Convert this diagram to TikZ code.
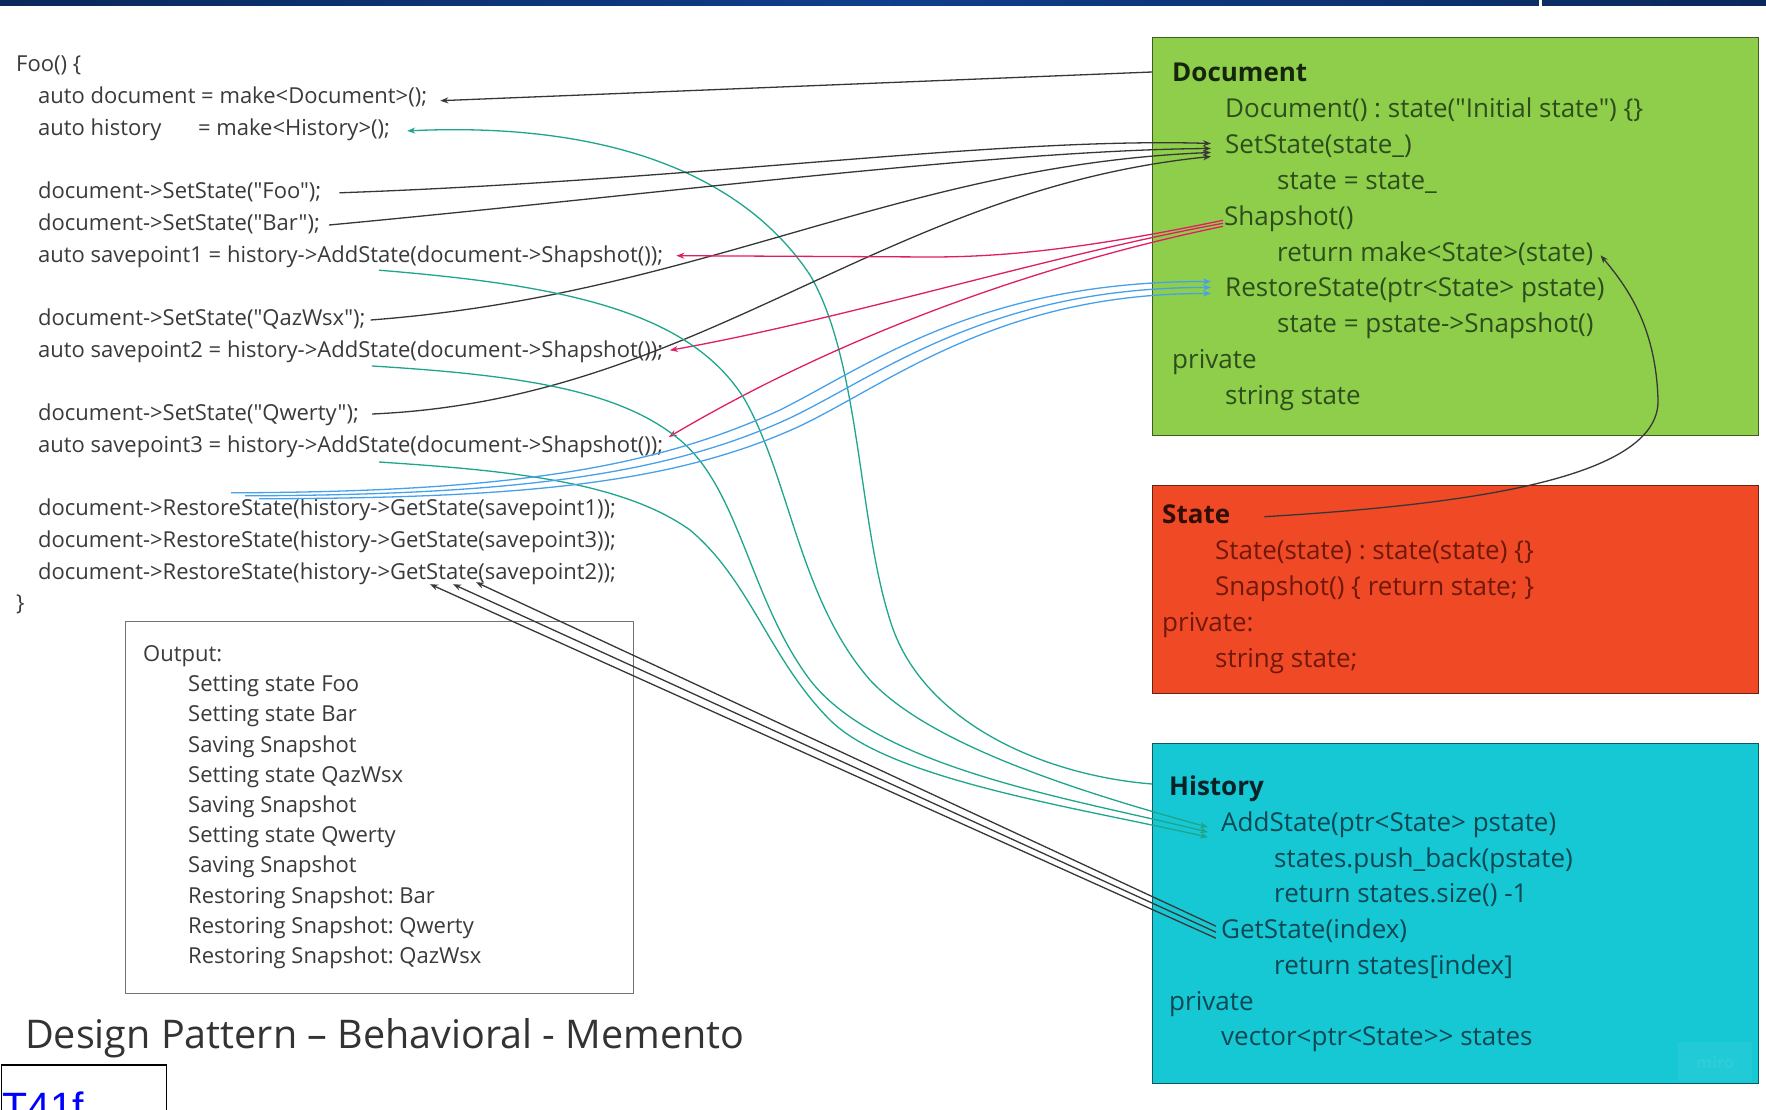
\documentclass[tikz,border=0pt]{standalone}
\usepackage{fontspec}
\setmainfont{Open Sans}[Ligatures=TeXOff]
\newfontfamily\tagfont{Liberation Sans}
\usetikzlibrary{arrows.meta}
\frenchspacing

\definecolor{barDark}{RGB}{10,40,90}
\definecolor{barLight}{RGB}{14,62,140}
\definecolor{docgreen}{RGB}{143,206,74}
\definecolor{statered}{RGB}{240,73,38}
\definecolor{histcyan}{RGB}{22,200,212}
\definecolor{doctext}{RGB}{45,78,28}
\definecolor{dochead}{RGB}{22,38,12}
\definecolor{statetext}{RGB}{112,24,10}
\definecolor{statehead}{RGB}{48,14,6}
\definecolor{histtext}{RGB}{12,72,84}
\definecolor{histhead}{RGB}{8,34,40}
\definecolor{codegray}{RGB}{58,58,58}
\definecolor{lnblack}{RGB}{55,55,55}
\definecolor{lnteal}{RGB}{30,165,140}
\definecolor{lnpink}{RGB}{225,30,100}
\definecolor{lnblue}{RGB}{70,160,235}

\begin{document}
\begin{tikzpicture}[x=1pt,y=-1pt,
  code/.style={anchor=base west, inner sep=0pt, text=codegray, font=\fontsize{22}{26}\selectfont},
  outtxt/.style={anchor=base west, inner sep=0pt, text=codegray, font=\fontsize{22}{26}\selectfont},
  btxt/.style={anchor=base west, inner sep=0pt, font=\fontsize{26}{30}\selectfont},
  bhead/.style={btxt, font=\fontsize{26}{30}\selectfont\bfseries},
  classbox/.style={anchor=north west, inner sep=0pt, line width=1.4pt},
  conn/.style={line width=1.3pt, -{Stealth[length=8pt,width=6pt]}},
  conblack/.style={conn, draw=lnblack},
  conteal/.style={conn, draw=lnteal},
  conpink/.style={conn, draw=lnpink},
  conblue/.style={conn, draw=lnblue}
]
\clip (0,0) rectangle (1766,1110);
\fill[white] (0,0) rectangle (1766,1110);

% header strip
\shade[left color=barDark, right color=barDark, middle color=barLight] (0,0) rectangle (1766,6);
\fill[white] (1539,0) rectangle (1542,6);

% class boxes
\node[classbox, fill=docgreen, draw=docgreen!45!black, minimum width=606pt, minimum height=398pt] (docbox) at (1152,37) {};
\node[classbox, fill=statered, draw=statered!45!black, minimum width=606pt, minimum height=208pt] (statebox) at (1152,485) {};
\node[classbox, fill=histcyan, draw=histcyan!45!black, minimum width=606pt, minimum height=340pt] (histbox) at (1152,743) {};
\node[classbox, draw=black!55, minimum width=508pt, minimum height=372pt] (outbox) at (125,621) {};

% faint badge in the history box corner
\fill[white, opacity=0.05] (1678,1042) rectangle (1752,1081);
\node[text=white, opacity=0.06, font=\fontsize{16}{18}\selectfont\bfseries] (badge) at (1715,1062) {miro};

% Document class
\node[bhead, text=dochead] (docHead) at (1172,82) {Document};
\node[btxt, text=doctext] (docCtor) at (1225,118) {Document() : state("Initial state") \{\}};
\node[btxt, text=doctext] (docSet) at (1225,153.5) {SetState(state\_)};
\node[btxt, text=doctext] (docSetBody) at (1277,189.5) {state = state\_};
\node[btxt, text=doctext] (docShap) at (1224,225.3) {Shapshot()};
\node[btxt, text=doctext] (docRet) at (1277,261.3) {return make<State>(state)};
\node[btxt, text=doctext] (docRest) at (1225,296.5) {RestoreState(ptr<State> pstate)};
\node[btxt, text=doctext] (docRestBody) at (1277,332.3) {state = pstate->Snapshot()};
\node[btxt, text=doctext] (docPriv) at (1172,368.3) {private};
\node[btxt, text=doctext] (docField) at (1225,404.3) {string state};

% State class
\node[bhead, text=statehead] (stateHead) at (1162,523.7) {State};
\node[btxt, text=statetext] (stateCtor) at (1215,559.8) {State(state) : state(state) \{\}};
\node[btxt, text=statetext] (stateSnap) at (1215,595.8) {Snapshot() \{ return state; \}};
\node[btxt, text=statetext] (statePriv) at (1162,631.8) {private:};
\node[btxt, text=statetext] (stateField) at (1215,667.9) {string state;};

% History class
\node[bhead, text=histhead] (histHead) at (1169,795.2) {History};
\node[btxt, text=histtext] (histAdd) at (1221,831.2) {AddState(ptr<State> pstate)};
\node[btxt, text=histtext] (histPush) at (1274,867.2) {states.push\_back(pstate)};
\node[btxt, text=histtext] (histSize) at (1274,902.5) {return states.size() -1};
\node[btxt, text=histtext] (histGet) at (1221,938.2) {GetState(index)};
\node[btxt, text=histtext] (histIdx) at (1274,974.2) {return states[index]};
\node[btxt, text=histtext] (histPriv) at (1169,1010) {private};
\node[btxt, text=histtext] (histField) at (1221,1045.2) {vector<ptr<State>> states};

% client code
\node[code] (fooopen) at (16,72) {Foo() \{};
\node[code] (mkdoc) at (38,103.7) {auto document = make<Document>();};
\node[code] (mkhist) at (38,135.4) {auto history \hspace{31pt}= make<History>();};
\node[code] (setfoo) at (38,198.8) {document->SetState("Foo");};
\node[code] (setbar) at (38,230.5) {document->SetState("Bar");};
\node[code] (sp1) at (38,262.2) {auto savepoint1 = history->AddState(document->Shapshot());};
\node[code] (setqaz) at (38,325.6) {document->SetState("QazWsx");};
\node[code] (sp2) at (38,357.3) {auto savepoint2 = history->AddState(document->Shapshot());};
\node[code] (setqwe) at (38,420.7) {document->SetState("Qwerty");};
\node[code] (sp3) at (38,452.4) {auto savepoint3 = history->AddState(document->Shapshot());};
\node[code] (rs1) at (38,515.8) {document->RestoreState(history->GetState(savepoint1));};
\node[code] (rs3) at (38,547.5) {document->RestoreState(history->GetState(savepoint3));};
\node[code] (rs2) at (38,579.2) {document->RestoreState(history->GetState(savepoint2));};
\node[code] (fooclose) at (16,610.9) {\}};

% program output
\node[outtxt] (outHead) at (143,661.3) {Output:};
\node[outtxt] (o1) at (188,691.7) {Setting state Foo};
\node[outtxt] (o2) at (188,721.9) {Setting state Bar};
\node[outtxt] (o3) at (188,752.1) {Saving Snapshot};
\node[outtxt] (o4) at (188,782.3) {Setting state QazWsx};
\node[outtxt] (o5) at (188,812.5) {Saving Snapshot};
\node[outtxt] (o6) at (188,842.7) {Setting state Qwerty};
\node[outtxt] (o7) at (188,872.9) {Saving Snapshot};
\node[outtxt] (o8) at (188,903.1) {Restoring Snapshot: Bar};
\node[outtxt] (o9) at (188,933.3) {Restoring Snapshot: Qwerty};
\node[outtxt] (o10) at (188,963.5) {Restoring Snapshot: QazWsx};

% caption
\node[anchor=base west, inner sep=0pt, text=black!80, font=\fontsize{39.5}{44}\selectfont] (title) at (25,1048) {Design Pattern – Behavioral - Memento};

% slide tag
\node[anchor=north west, inner sep=0pt, draw=black, line width=1.5pt, minimum width=165pt, minimum height=60pt] (tagbox) at (0.75,1064) {};
\node[anchor=base west, inner sep=0pt, text=blue, font=\tagfont\fontsize{41}{46}\selectfont] (tag) at (2,1121) {T41f};

% ---- connectors ----
% make<Document>
\draw[conblack] ([yshift=-35pt]docbox.north west) -- ([xshift=13pt,yshift=3pt]mkdoc.base east);
% make<History>
\draw[conteal] ([yshift=-41pt]histbox.north west) .. controls (1040,775) and (920,720) .. (890,620)
  .. controls (858,520) and (860,360) .. (810,275)
  .. controls (740,170) and (600,122) .. ([xshift=17pt,yshift=4.5pt]mkhist.base east);

% SetState calls
\draw[conblack] ([xshift=18pt,yshift=6pt]setfoo.base east) .. controls (700,180) and (1000,137) .. ([xshift=-14pt,yshift=10pt]docSet.base west);
\draw[conblack] ([xshift=9pt,yshift=5.5pt]setbar.base east) .. controls (650,195) and (1000,150) .. ([xshift=-14pt,yshift=5pt]docSet.base west);
\draw[conblack] ([xshift=5pt,yshift=5.6pt]setqaz.base east) .. controls (700,295) and (900,165) .. ([xshift=-14pt,yshift=1pt]docSet.base west);
\draw[conblack] ([xshift=13pt,yshift=6.7pt]setqwe.base east) .. controls (700,400) and (880,190) .. ([xshift=-14pt,yshift=-3pt]docSet.base west);

% Shapshot results
\draw[conpink] ([xshift=-1pt,yshift=5pt]docShap.base west) .. controls (1080,250) and (1000,257) .. (930,257) -- ([xshift=13pt,yshift=6.5pt]sp1.base east);
\draw[conpink] ([xshift=-1pt,yshift=2pt]docShap.base west) .. controls (1050,255) and (850,318) .. ([xshift=6.5pt,yshift=7pt]sp2.base east);
\draw[conpink] ([xshift=-1pt,yshift=-1pt]docShap.base west) .. controls (1050,262) and (850,330) .. ([xshift=5.5pt,yshift=15.4pt]sp3.base east);

% AddState calls
\draw[conteal] ([xshift=341pt,yshift=-8pt]sp1.base west) .. controls (560,285) and (690,310) .. (745,400)
  .. controls (790,480) and (800,600) .. (870,680)
  .. controls (930,745) and (1080,792) .. ([xshift=-13pt,yshift=4pt]histAdd.base west);
\draw[conteal] ([xshift=334pt,yshift=-8.7pt]sp2.base west) .. controls (520,375) and (620,390) .. (680,440)
  .. controls (740,490) and (750,600) .. (810,680)
  .. controls (880,770) and (1080,800) .. ([xshift=-13pt,yshift=-1pt]histAdd.base west);
\draw[conteal] ([xshift=341pt,yshift=-9.6pt]sp3.base west) .. controls (500,470) and (620,480) .. (690,530)
  .. controls (750,580) and (770,660) .. (830,720)
  .. controls (890,780) and (1080,808) .. ([xshift=-13pt,yshift=-6pt]histAdd.base west);

% RestoreState calls
\draw[conblue] ([xshift=193pt,yshift=23pt]rs1.base west) .. controls (500,492) and (650,470) .. (780,410)
  .. controls (870,365) and (980,281) .. ([xshift=-14pt,yshift=15pt]docRest.base west);
\draw[conblue] ([xshift=207pt,yshift=20pt]rs1.base west) .. controls (500,495) and (660,478) .. (790,418)
  .. controls (880,375) and (990,287) .. ([xshift=-14pt,yshift=9pt]docRest.base west);
\draw[conblue] ([xshift=221pt,yshift=17pt]rs1.base west) .. controls (510,498) and (670,486) .. (800,426)
  .. controls (890,383) and (1000,293) .. ([xshift=-14pt,yshift=3pt]docRest.base west);

% GetState results
\draw[conblack] ([xshift=-5pt,yshift=12pt]histGet.base west) -- ([xshift=438pt,yshift=-3pt]rs2.base west);
\draw[conblack] ([xshift=-5pt,yshift=6pt]histGet.base west) -- ([xshift=415pt,yshift=-5pt]rs2.base west);
\draw[conblack] ([xshift=-5pt,yshift=0pt]histGet.base west) -- ([xshift=392pt,yshift=-5pt]rs2.base west);

% State constructed by Shapshot
\draw[conblack] ([xshift=34pt,yshift=7pt]stateHead.base east) .. controls (1460,505) and (1660,480) .. (1658,400)
  .. controls (1656,330) and (1630,290) .. ([xshift=7pt,yshift=6pt]docRet.base east);
\end{tikzpicture}
\end{document}
